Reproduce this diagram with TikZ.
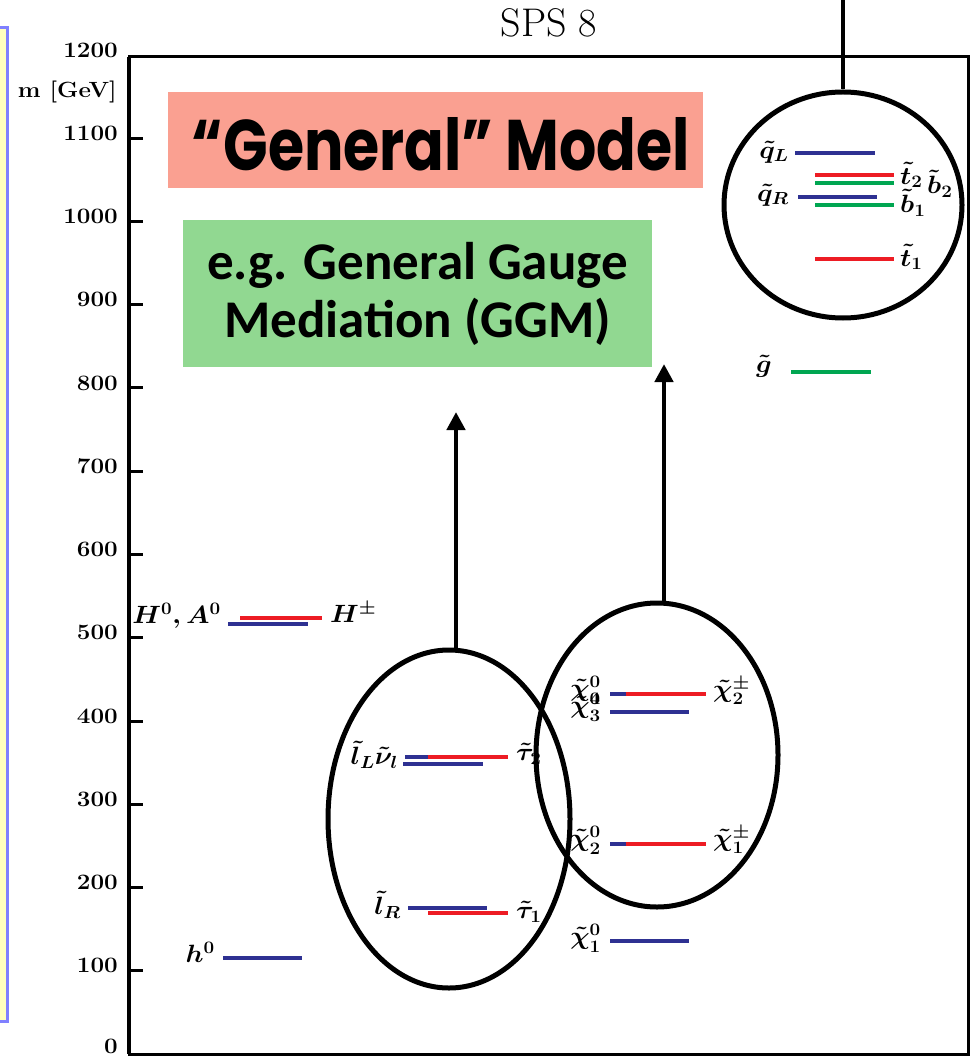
\RequirePackage{fix-cm}
\documentclass[tikz,border=0pt]{standalone}
\usepackage{fontspec}
\usepackage{graphicx}
\usetikzlibrary{shapes.geometric,arrows.meta}
\newfontfamily\comicf{Poppins}
\newfontfamily\calf{Carlito}
\definecolor{lvblue}{RGB}{46,49,146}
\definecolor{lvred}{RGB}{237,28,36}
\definecolor{lvgreen}{RGB}{0,166,81}
\definecolor{salmonbox}{RGB}{250,160,145}
\definecolor{greenbox}{RGB}{145,216,145}
\definecolor{panelyellow}{RGB}{255,255,190}
\definecolor{panelblue}{RGB}{128,128,255}
\newcommand\ml[1]{\scalebox{1.08}[1]{\boldmath$#1$}}
\newcommand\lvl[4]{\draw[line width=4pt,#1] (#2,#4) -- (#3,#4);}
\begin{document}
\begin{tikzpicture}[x=1pt,y=-1pt,
  lab/.style={inner sep=0pt, font=\fontsize{25}{30}\selectfont},
  axlab/.style={inner sep=0pt, anchor=east, font=\fontsize{22}{27}\selectfont\bfseries},
  ring/.style={ellipse, draw, line width=5pt, inner sep=0pt},
  arr/.style={line width=4.5pt, -{Triangle[width=18pt,length=18pt]}}]
\useasboundingbox (0,0) rectangle (973,1056);
% left panel edge
\draw[fill=panelyellow, draw=panelblue, line width=3pt] (-10,28) rectangle (7,1021);
% frame
\draw[line width=3pt] (129,57) rectangle (968,1054);
\draw[line width=4.5pt] (129,57) -- (129,1054);
\foreach \m in {100,200,...,1100}
  \draw[line width=3pt] (129,{1054-0.8325*\m}) -- (143,{1054-0.8325*\m});
\foreach \m in {100,200,...,1200}
  \node[axlab] at (118,{1049-0.8325*\m}) {\scalebox{1.1}[1]{\m}};
\node[axlab] (zero) at (118,1046) {\scalebox{1.1}[1]{0}};
\node[axlab] (unit) at (117,92) {\scalebox{1.1}[1]{m [GeV]}};
\node[font=\fontsize{40}{48}\selectfont, inner sep=0pt] (title) at (549,23) {SPS 8};
% boxes
\node[fill=salmonbox, minimum width=535pt, minimum height=96pt, inner sep=0pt] (gm) at (435.5,140) {};
\node[anchor=base, inner sep=0pt] (gmt) at (441,171) {\resizebox{498pt}{53pt}{\comicf\bfseries “General” Model}};
\node[fill=greenbox, minimum width=469pt, minimum height=147pt, inner sep=0pt, align=center,
  font=\calf\bfseries\fontsize{53}{58}\selectfont] (ggm) at (417.5,293.5) {e.g. General Gauge\\Mediation (GGM)};
% squarks / gluino
\lvl{lvblue}{795}{875}{153}
\lvl{lvred}{815}{894}{175}
\lvl{lvgreen}{815}{894}{183}
\lvl{lvblue}{798}{877}{197}
\lvl{lvgreen}{815}{894}{205}
\lvl{lvred}{815}{894}{259}
\lvl{lvgreen}{791}{871}{372}
\node[lab, anchor=east] (qL) at (789,152) {\ml{\tilde q_L}};
\node[lab, anchor=east] (qR) at (789,195) {\ml{\tilde q_R}};
\node[lab, anchor=west] (t2) at (900,175) {\ml{\tilde t_2}};
\node[lab, anchor=west] (b2) at (927,184) {\ml{\tilde b_2}};
\node[lab, anchor=west] (b1) at (900,203) {\ml{\tilde b_1}};
\node[lab, anchor=west] (t1) at (900,257) {\ml{\tilde t_1}};
\node[lab, anchor=east] (gl) at (772,366) {\ml{\tilde g}};
% Higgs
\lvl{lvred}{240}{322}{618}
\lvl{lvblue}{228}{308}{624}
\node[lab, anchor=east] (HA) at (221,616) {\ml{H^0, A^0}};
\node[lab, anchor=west] (Hpm) at (330,612) {\ml{H^\pm}};
\lvl{lvblue}{223}{302}{958}
\node[lab, anchor=east] (h0) at (215,952) {\ml{h^0}};
% sleptons
\lvl{lvblue}{405}{480}{757}
\lvl{lvred}{428}{508}{757}
\lvl{lvblue}{403}{483}{764}
\lvl{lvblue}{408}{487}{908}
\lvl{lvred}{428}{508}{913}
\node[lab, anchor=east] (lL) at (398,755) {\ml{\tilde l_L\tilde\nu_l}};
\node[lab, anchor=west] (tau2) at (516,754) {\ml{\tilde\tau_2}};
\node[lab, anchor=east] (lR) at (401,905) {\ml{\tilde l_R}};
\node[lab, anchor=west] (tau1) at (516,912) {\ml{\tilde\tau_1}};
% gauginos
\lvl{lvblue}{610}{689}{694}
\lvl{lvred}{626}{706}{694}
\lvl{lvblue}{610}{689}{712}
\lvl{lvblue}{610}{689}{844}
\lvl{lvred}{626}{706}{844}
\lvl{lvblue}{610}{689}{941}
\node[lab, anchor=east] (n4) at (601,690) {\ml{\tilde\chi^0_4}};
\node[lab, anchor=east] (n3) at (601,707) {\ml{\tilde\chi^0_3}};
\node[lab, anchor=west] (c2) at (713,691) {\ml{\tilde\chi^\pm_2}};
\node[lab, anchor=east] (n2) at (601,840) {\ml{\tilde\chi^0_2}};
\node[lab, anchor=west] (c1) at (713,840) {\ml{\tilde\chi^\pm_1}};
\node[lab, anchor=east] (n1) at (601,938) {\ml{\tilde\chi^0_1}};
% rings and arrows
\node[ring, minimum width=238pt, minimum height=226pt] (sq) at (843,205) {};
\node[ring, minimum width=242pt, minimum height=338pt] (sl) at (449,819) {};
\node[ring, minimum width=242pt, minimum height=304pt] (ga) at (657,755) {};
\coordinate (topend) at (843,0);
\draw[line width=4pt] (sq.north) -- (topend);
\coordinate (tipL) at (456,412);
\coordinate (tipR) at (664,364);
\draw[arr] (sl.north -| tipL) -- (tipL);
\draw[arr] (ga.north -| tipR) -- (tipR);
\end{tikzpicture}
\end{document}
